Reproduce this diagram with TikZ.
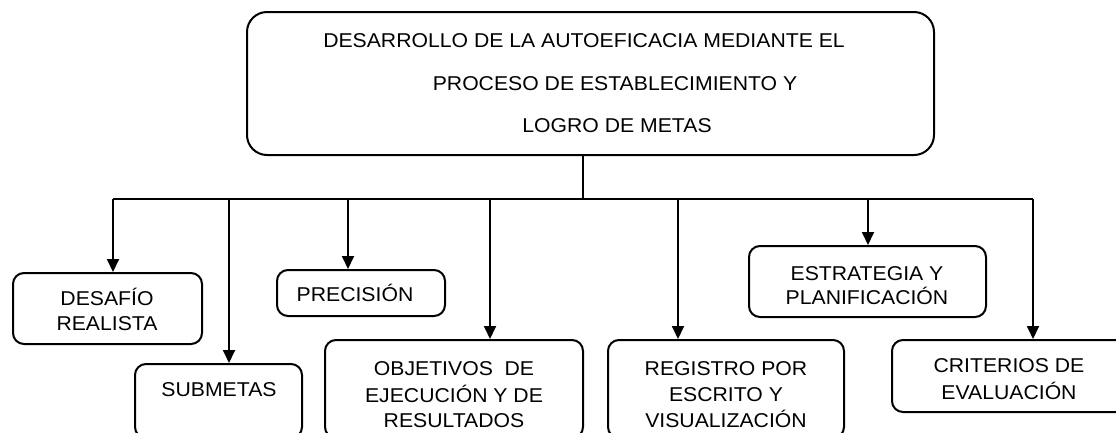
\documentclass[tikz,border=0pt]{standalone}
\usepackage{fontspec}
\setmainfont{Liberation Sans}[FakeStretch=1.06]
\usetikzlibrary{arrows.meta}
\tikzset{
  box/.style={draw=black, line width=2pt, rounded corners=11pt, inner sep=0pt},
  bigbox/.style={box, rounded corners=20pt},
  txt/.style={anchor=base, inner sep=0pt, font=\fontsize{20}{24}\selectfont},
  wire/.style={draw=black, line width=1.8pt},
  arr/.style={wire, -{Triangle[width=12pt,length=13pt]}}
}
\begin{document}
\begin{tikzpicture}[x=1pt,y=-1pt]
\useasboundingbox (0,0) rectangle (1116,432);
\clip (0,0) rectangle (1116,432);
% boxes
\node[bigbox, minimum width=687pt, minimum height=143pt] (main) at (590.5,83.5) {};
\node[box, minimum width=189pt, minimum height=71pt] (desafio) at (107.5,308.5) {};
\node[box, minimum width=167pt, minimum height=74pt] (submetas) at (218.5,401) {};
\node[box, minimum width=168pt, minimum height=46pt] (precision) at (361,293) {};
\node[box, minimum width=258pt, minimum height=98pt] (objetivos) at (454,389) {};
\node[box, minimum width=236pt, minimum height=98pt] (registro) at (726,389) {};
\node[box, minimum width=237pt, minimum height=71pt] (estrategia) at (867.5,281.5) {};
\node[box, minimum width=236pt, minimum height=72pt] (criterios) at (1010,376) {};
% texts
\node[txt] (m1) at (584,47) {DESARROLLO DE LA AUTOEFICACIA MEDIANTE EL};
\node[txt] (m2) at (615,90) {PROCESO DE ESTABLECIMIENTO Y};
\node[txt] (m3) at (617,132) {LOGRO DE METAS};
\node[txt] (d1) at (107,305) {DESAFÍO};
\node[txt] (d2) at (107,330) {REALISTA};
\node[txt] (s1) at (219,396) {SUBMETAS};
\node[txt] (p1) at (355,301) {PRECISIÓN};
\node[txt] (o1) at (454,375) {OBJETIVOS~ DE};
\node[txt] (o2) at (454,402) {EJECUCIÓN Y DE};
\node[txt] (o3) at (454,427) {RESULTADOS};
\node[txt] (r1) at (726,375) {REGISTRO POR};
\node[txt] (r2) at (726,401) {ESCRITO Y};
\node[txt] (r3) at (726,427) {VISUALIZACIÓN};
\node[txt] (e1) at (867,280) {ESTRATEGIA Y};
\node[txt] (e2) at (867,304) {PLANIFICACIÓN};
\node[txt] (c1) at (1009,372) {CRITERIOS DE};
\node[txt] (c2) at (1009,399) {EVALUACIÓN};
% bus
\coordinate (stem) at (583,199);
\coordinate (b1) at (113,199);
\coordinate (b2) at (229,199);
\coordinate (b3) at (348,199);
\coordinate (b4) at (490,199);
\coordinate (b5) at (678,199);
\coordinate (b6) at (868,199);
\coordinate (b7) at (1033,199);
\draw[wire] (stem |- main.south) -- (stem);
\draw[wire] (b1) -- (b7);
\draw[arr] (b1) -- (b1 |- desafio.north);
\draw[arr] (b2) -- (b2 |- submetas.north);
\draw[arr] (b3) -- (b3 |- precision.north);
\draw[arr] (b4) -- (b4 |- objetivos.north);
\draw[arr] (b5) -- (b5 |- registro.north);
\draw[arr] (b6) -- (b6 |- estrategia.north);
\draw[arr] (b7) -- (b7 |- criterios.north);
\end{tikzpicture}
\end{document}
